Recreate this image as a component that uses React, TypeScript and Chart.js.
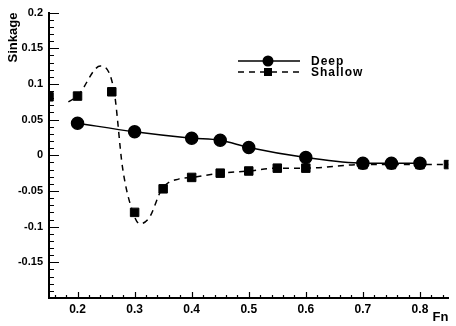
import React, { useEffect, useRef } from 'react';
import { Chart, registerables } from 'chart.js';

Chart.register(...registerables);

// ---- Data ----
const FN_DEEP = [0.2, 0.3, 0.4, 0.45, 0.5, 0.6, 0.7, 0.75, 0.8];
const SINKAGE_DEEP = [0.045, 0.033, 0.024, 0.021, 0.011, -0.003, -0.011, -0.011, -0.011];

const FN_SHALLOW = [0.15, 0.2, 0.26, 0.3, 0.35, 0.4, 0.45, 0.5, 0.55, 0.6, 0.7, 0.75, 0.8, 0.85];
const SINKAGE_SHALLOW = [0.082, 0.083, 0.089, -0.08, -0.047, -0.031, -0.025, -0.022, -0.018, -0.018, -0.013, -0.013, -0.013, -0.013];

// dashed fit curve for the shallow case
const FN_SHALLOW_CURVE = [0.184, 0.2, 0.24, 0.264, 0.279, 0.297, 0.309, 0.326, 0.348, 0.378, 0.4, 0.45, 0.5, 0.55, 0.6, 0.7, 0.75, 0.8, 0.85];
const SINKAGE_SHALLOW_CURVE = [0.075, 0.083, 0.125, 0.09, -0.018, -0.08, -0.096, -0.087, -0.047, -0.033, -0.031, -0.025, -0.022, -0.018, -0.018, -0.013, -0.013, -0.013, -0.013];

const X_TICKS = [0.2, 0.3, 0.4, 0.5, 0.6, 0.7, 0.8];
const Y_TICKS = [0.2, 0.15, 0.1, 0.05, 0, -0.05, -0.1, -0.15];
const X_MIN = 0.15;
const X_MAX = 0.85;
const Y_MIN = -0.2;
const Y_MAX = 0.2;

const SERIES_LABELS = ['Deep', 'Shallow'];
const X_TITLE = 'Fn';
const Y_TITLE = 'Sinkage';

const FONT = '"Liberation Sans", Arial, sans-serif';

const toPoints = (xs: number[], ys: number[]) => xs.map((x, i) => ({ x, y: ys[i] }));

const fmt = (v: number) => String(Math.round(v * 100) / 100);

const inwardTicks = {
  id: 'inwardTicks',
  afterDatasetsDraw(chart: any) {
    const { ctx, chartArea, scales } = chart;
    const x = scales.x;
    const y = scales.y;
    ctx.save();
    ctx.strokeStyle = '#000';
    ctx.lineWidth = 1.2;
    ctx.beginPath();
    // y ticks every 0.01, major every 0.05
    for (let i = -20; i <= 20; i++) {
      const v = i / 100;
      const py = Math.round(y.getPixelForValue(v)) + 0.5;
      const len = i % 5 === 0 ? 10 : 5;
      ctx.moveTo(chartArea.left, py);
      ctx.lineTo(chartArea.left + len, py);
    }
    // x ticks every 0.02, major every 0.1
    for (let i = 8; i <= 42; i++) {
      const v = i / 50;
      const px = Math.round(x.getPixelForValue(v)) + 0.5;
      const len = i % 5 === 0 ? 6 : 3;
      ctx.moveTo(px, chartArea.bottom);
      ctx.lineTo(px, chartArea.bottom - len);
    }
    ctx.stroke();
    ctx.restore();
  },
};

const innerLegend = {
  id: 'innerLegend',
  afterDatasetsDraw(chart: any) {
    const { ctx } = chart;
    const x0 = 238;
    const x1 = 300;
    const cx = 268;
    const rows = [
      { label: SERIES_LABELS[0], y: 61, dash: [] as number[], style: 'circle' },
      { label: SERIES_LABELS[1], y: 72, dash: [6, 5], style: 'rect' },
    ];
    ctx.save();
    rows.forEach((r) => {
      ctx.strokeStyle = '#000';
      ctx.fillStyle = '#000';
      ctx.lineWidth = 1.5;
      ctx.setLineDash(r.dash);
      ctx.beginPath();
      ctx.moveTo(x0, r.y);
      ctx.lineTo(x1, r.y);
      ctx.stroke();
      ctx.setLineDash([]);
      ctx.beginPath();
      if (r.style === 'circle') {
        ctx.arc(cx, r.y, 5.5, 0, Math.PI * 2);
      } else {
        ctx.rect(cx - 4, r.y - 4, 8, 8);
      }
      ctx.fill();
      ctx.font = `bold 12px ${FONT}`;
      try {
        (ctx as any).letterSpacing = '1px';
      } catch (e) {
        /* ignore */
      }
      ctx.textAlign = 'left';
      ctx.textBaseline = 'middle';
      ctx.fillText(r.label, 311, r.y + 0.5);
    });
    ctx.restore();
  },
};

export default function App() {
  const canvasRef = useRef<HTMLCanvasElement | null>(null);

  useEffect(() => {
    if (!canvasRef.current) return;
    const chart = new Chart(canvasRef.current, {
      type: 'line',
      data: {
        datasets: [
          {
            label: SERIES_LABELS[0],
            data: toPoints(FN_DEEP, SINKAGE_DEEP),
            borderColor: '#000',
            backgroundColor: '#000',
            borderWidth: 1.5,
            pointRadius: 6,
            pointStyle: 'circle',
            pointBackgroundColor: '#000',
            pointBorderColor: '#000',
            cubicInterpolationMode: 'monotone',
          },
          {
            label: SERIES_LABELS[1] + ' curve',
            data: toPoints(FN_SHALLOW_CURVE, SINKAGE_SHALLOW_CURVE),
            borderColor: '#000',
            borderWidth: 1.5,
            borderDash: [6, 5],
            pointRadius: 0,
            cubicInterpolationMode: 'monotone',
          },
          {
            label: SERIES_LABELS[1],
            data: toPoints(FN_SHALLOW, SINKAGE_SHALLOW),
            showLine: false,
            pointStyle: 'rect',
            pointRadius: 6,
            pointBackgroundColor: '#000',
            pointBorderColor: '#000',
            borderColor: '#000',
            backgroundColor: '#000',
          },
        ],
      },
      options: {
        animation: false,
        responsive: false,
        devicePixelRatio: 1,
        layout: { padding: { top: 10, right: 1, left: 0, bottom: 0 } },
        plugins: {
          legend: { display: false },
          tooltip: { enabled: false },
        },
        scales: {
          x: {
            type: 'linear',
            min: X_MIN,
            max: X_MAX,
            afterBuildTicks: (scale: any) => {
              scale.ticks = X_TICKS.map((v) => ({ value: v }));
            },
            afterFit: (scale: any) => {
              scale.height = 28;
            },
            grid: { display: true, drawOnChartArea: false, drawTicks: false },
            border: { display: true, color: '#000', width: 2 },
            ticks: {
              color: '#000',
              padding: 4,
              maxRotation: 0,
              autoSkip: false,
              font: { family: FONT, size: 12, weight: 'bold' },
              callback: (v: any) => fmt(Number(v)),
            },
            title: {
              display: true,
              text: X_TITLE,
              align: 'end',
              color: '#000',
              font: { family: FONT, size: 13, weight: 'bold' },
              padding: { top: 0, bottom: 1 },
            },
          },
          y: {
            type: 'linear',
            min: Y_MIN,
            max: Y_MAX,
            afterBuildTicks: (scale: any) => {
              scale.ticks = Y_TICKS.map((v) => ({ value: v }));
            },
            afterFit: (scale: any) => {
              scale.width = 49;
            },
            grid: { display: true, drawOnChartArea: false, drawTicks: false },
            border: { display: true, color: '#000', width: 2 },
            ticks: {
              color: '#000',
              padding: 6,
              autoSkip: false,
              font: { family: FONT, size: 11, weight: 'bold' },
              callback: (v: any) => fmt(Number(v)),
            },
            title: {
              display: true,
              text: Y_TITLE,
              align: 'end',
              color: '#000',
              font: { family: FONT, size: 13, weight: 'bold' },
              padding: { top: 6, bottom: 0 },
            },
          },
        },
      },
      plugins: [inwardTicks, innerLegend],
    } as any);
    return () => chart.destroy();
  }, []);

  return (
    <div style={{ position: 'fixed', left: 0, top: 0, width: 456, height: 326, background: '#fff' }}>
      <canvas ref={canvasRef} width={456} height={326} />
    </div>
  );
}
